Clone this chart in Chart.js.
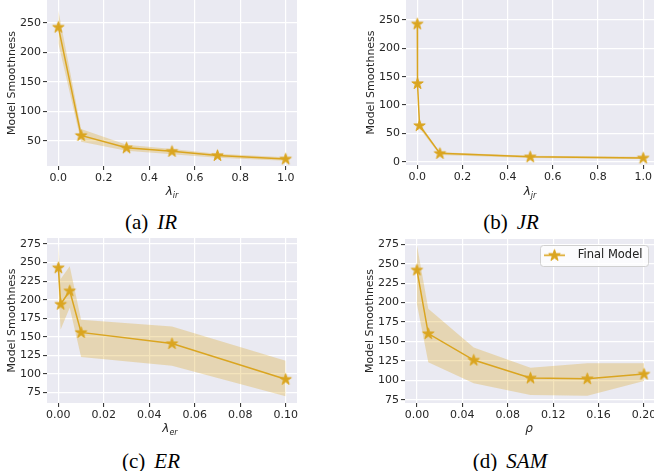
<!DOCTYPE html>
<html>
<head>
<meta charset="utf-8">
<script src="https://cdn.jsdelivr.net/npm/chart.js@4.4.1/dist/chart.umd.min.js"></script>
<style>
  html, body { margin: 0; padding: 0; background: #fff; }
  body { position: relative; width: 654px; height: 471px; overflow: hidden; }
  canvas { position: absolute; }
  .xt { position: absolute; font-family: 'DejaVu Sans'; font-size: 12px; font-style: italic; color: #262626;
        transform: translate(-50%, -50%); white-space: nowrap; line-height: 1; }
  .xt sub { font-size: 8px; vertical-align: -3px; }
  .cap { position: absolute; font-family: 'Liberation Serif'; font-size: 21px; color: #000;
         transform: translate(-50%, -50%); white-space: nowrap; line-height: 1; }
  .cap i { margin-left: 9px; }
</style>
</head>
<body>
<canvas id="chartIR" width="300" height="200" style="left:0px;top:0px"></canvas>
<canvas id="chartJR" width="330" height="200" style="left:327px;top:0px"></canvas>
<canvas id="chartER" width="300" height="205" style="left:0px;top:235px"></canvas>
<canvas id="chartSAM" width="330" height="205" style="left:327px;top:235px"></canvas>

<div class="xt" style="left:172px;top:192px">λ<sub>ir</sub></div>
<div class="xt" style="left:530px;top:192px">λ<sub>jr</sub></div>
<div class="xt" style="left:170px;top:429px">λ<sub>er</sub></div>
<div class="xt" style="left:529px;top:428px">ρ</div>

<div class="cap" style="left:151px;top:222px">(a)<i>IR</i></div>
<div class="cap" style="left:511px;top:222px">(b)<i>JR</i></div>
<div class="cap" style="left:151px;top:461px">(c)<i>ER</i></div>
<div class="cap" style="left:510px;top:461px">(d)<i>SAM</i></div>

<script>
// ---- dados ----
// (a) IR
const irX    = [0, 0.1, 0.3, 0.5, 0.7, 1.0];
const irY    = [243, 59, 38, 32, 25, 19];
const irLow  = [215, 48, 33, 27, 21, 16];
const irHigh = [271, 70, 43, 36, 28, 22];
const irXTicks = [0, 0.2, 0.4, 0.6, 0.8, 1.0];
const irYTicks = [50, 100, 150, 200, 250];

// (b) JR
const jrX    = [0, 0.001, 0.01, 0.1, 0.5, 1.0];
const jrY    = [243, 138, 64, 15, 9, 7];
const jrLow  = [240, 133, 59, 12, 7, 5];
const jrHigh = [246, 143, 68, 17, 11, 9];
const jrXTicks = [0, 0.2, 0.4, 0.6, 0.8, 1.0];
const jrYTicks = [0, 50, 100, 150, 200, 250];

// (c) ER
const erX    = [0, 0.001, 0.005, 0.01, 0.05, 0.1];
const erY    = [243, 194, 212, 156, 141, 93];
const erLow  = [213, 160, 189, 123, 111, 70];
const erHigh = [274, 228, 245, 173, 164, 118];
const erXTicks = [0, 0.02, 0.04, 0.06, 0.08, 0.1];
const erYTicks = [75, 100, 125, 150, 175, 200, 225, 250, 275];

// (d) SAM
const samX    = [0, 0.01, 0.05, 0.1, 0.15, 0.2];
const samY    = [242, 160, 126, 103, 102, 108];
const samLow  = [198, 123, 96, 81, 80, 99];
const samHigh = [274, 192, 142, 116, 122, 122];
const samXTicks = [0, 0.04, 0.08, 0.12, 0.16, 0.2];
const samYTicks = [75, 100, 125, 150, 175, 200, 225, 250, 275];

const seriesLabel = 'Final Model';
const yTitle = 'Model Smoothness';

// ---- estilo ----
const gold = '#DAA520';
const band = 'rgba(218, 165, 32, 0.3)';
const ink = '#262626';
const axisFont = { family: 'DejaVu Sans', size: 11 };

// estrela preenchida (marcador '*' do matplotlib)
function drawStar(g, cx, cy, r) {
    g.beginPath();
    for (let k = 0; k < 10; k++) {
        const ang = -Math.PI / 2 + k * Math.PI / 5;
        const rr = k % 2 === 0 ? r : r * 0.381966;
        const px = cx + rr * Math.cos(ang), py = cy + rr * Math.sin(ang);
        if (k === 0) g.moveTo(px, py); else g.lineTo(px, py);
    }
    g.closePath();
    g.fillStyle = gold;
    g.strokeStyle = gold;
    g.lineWidth = 1;
    g.fill();
    g.stroke();
}

const starImg = document.createElement('canvas');
starImg.width = 15; starImg.height = 15;
drawStar(starImg.getContext('2d'), 7.5, 7.8, 6);

// marcador da legenda: linha + estrela
const legendImg = document.createElement('canvas');
legendImg.width = 28; legendImg.height = 15;
(function () {
    const g = legendImg.getContext('2d');
    g.strokeStyle = gold; g.lineWidth = 1.5;
    g.beginPath(); g.moveTo(0, 7.5); g.lineTo(21, 7.5); g.stroke();
    drawStar(g, 10.5, 7.8, 6);
})();

// fundo cinza-azulado da área do gráfico (seaborn darkgrid)
const plotBg = {
    id: 'plotBg',
    beforeDraw(chart) {
        const a = chart.chartArea, ctx = chart.ctx;
        ctx.save();
        ctx.fillStyle = '#EAEAF2';
        ctx.fillRect(a.left, a.top, a.right - a.left, a.bottom - a.top);
        ctx.restore();
    }
};

// posiciona a legenda dentro da área, no canto superior direito, com caixa
const legendFrame = {
    id: 'legendFrame',
    afterLayout(chart) {
        const lg = chart.legend;
        if (!lg || !lg.options.display) return;
        lg.left = 212; lg.right = 326;
        lg.top = 9.5; lg.bottom = 33;
        lg.width = lg.right - lg.left; lg.height = lg.bottom - lg.top;
    },
    afterDraw(chart) {
        const lg = chart.legend;
        if (!lg || !lg.options.display) return;
        const ctx = chart.ctx;
        ctx.save();
        ctx.beginPath();
        ctx.roundRect(213.5, 10.5, 108, 21, 3);
        ctx.fillStyle = 'rgba(255,255,255,0.8)';
        ctx.fill();
        ctx.strokeStyle = '#d0d0d0';
        ctx.lineWidth = 1;
        ctx.stroke();
        ctx.restore();
        lg.draw();
    }
};

// fixa a área do gráfico no lugar medido (sem a folga automática dos rótulos)
function pinArea(area, padLeft) {
    const [l, t, r, b] = area;
    return {
        id: 'pinArea',
        afterLayout(chart) {
            const ca = chart.chartArea;
            ca.left = l; ca.top = t; ca.right = r; ca.bottom = b;
            ca.width = r - l; ca.height = b - t;
            const x = chart.scales.x, y = chart.scales.y;
            x.left = l; x.right = r; x.width = r - l;
            x.top = b; x.bottom = chart.height; x.height = chart.height - b;
            y.left = padLeft; y.right = l; y.width = l - padLeft;
            y.top = t; y.bottom = b; y.height = b - t;
            x.configure(); y.configure();
        }
    };
}

function toPoints(xs, ys) {
    return xs.map((x, i) => ({ x: x, y: ys[i] }));
}

function makePanel(opt) {
    const canvas = document.getElementById(opt.id);
    const W = canvas.width, H = canvas.height;
    const [aLeft, aTop, aRight, aBottom] = opt.area;
    const padLeft = opt.padLeft;
    const plugins = [plotBg, pinArea(opt.area, padLeft)];
    if (opt.legend) plugins.push(legendFrame);

    return new Chart(canvas.getContext('2d'), {
        type: 'line',
        data: {
            datasets: [
                {
                    label: 'low',
                    data: toPoints(opt.xs, opt.lo),
                    borderWidth: 0, pointRadius: 0, fill: false
                },
                {
                    label: 'high',
                    data: toPoints(opt.xs, opt.hi),
                    borderWidth: 0, pointRadius: 0,
                    backgroundColor: band, fill: '-1'
                },
                {
                    label: seriesLabel,
                    data: toPoints(opt.xs, opt.ys),
                    borderColor: gold, backgroundColor: gold,
                    borderWidth: 1.5, tension: 0, fill: false,
                    pointStyle: starImg, pointRadius: 6
                }
            ]
        },
        options: {
            responsive: false,
            animation: false,
            events: [],
            layout: {
                padding: { left: padLeft, top: aTop, right: W - aRight, bottom: 0 }
            },
            scales: {
                x: {
                    type: 'linear',
                    min: opt.xRange[0], max: opt.xRange[1],
                    border: { display: false },
                    grid: { color: '#ffffff', lineWidth: 1.2, tickColor: ink, tickLength: 4, tickWidth: 1 },
                    ticks: {
                        color: ink, font: axisFont, padding: 2, maxRotation: 0, autoSkip: false,
                        callback: v => v.toFixed(opt.digits)
                    },
                    afterBuildTicks: s => { s.ticks = opt.xTicks.map(v => ({ value: v })); },
                    afterFit: s => { s.height = H - aBottom; }
                },
                y: {
                    type: 'linear',
                    min: opt.yRange[0], max: opt.yRange[1],
                    border: { display: false },
                    grid: { color: '#ffffff', lineWidth: 1.2, tickColor: ink, tickLength: 4, tickWidth: 1 },
                    ticks: { color: ink, font: axisFont, padding: 2, autoSkip: false },
                    afterBuildTicks: s => { s.ticks = opt.yTicks.map(v => ({ value: v })); },
                    afterFit: s => { s.width = aLeft - padLeft; },
                    title: {
                        display: true, text: yTitle, color: ink, font: axisFont,
                        padding: { top: 6, bottom: 0 }
                    }
                }
            },
            plugins: {
                tooltip: { enabled: false },
                legend: {
                    display: !!opt.legend,
                    position: 'chartArea',
                    align: 'start',
                    labels: {
                        usePointStyle: true,
                        pointStyle: legendImg,
                        pointStyleWidth: 28,
                        padding: 5,
                        color: ink,
                        font: { family: 'DejaVu Sans', size: 11.5 },
                        filter: item => item.text === seriesLabel
                    }
                }
            }
        },
        plugins: plugins
    });
}

makePanel({
    id: 'chartIR', xs: irX, ys: irY, lo: irLow, hi: irHigh,
    xTicks: irXTicks, yTicks: irYTicks, xRange: [-0.05, 1.05], yRange: [7, 289], digits: 1,
    area: [47, 0, 297, 166], padLeft: 0
});
makePanel({
    id: 'chartJR', xs: jrX, ys: jrY, lo: jrLow, hi: jrHigh,
    xTicks: jrXTicks, yTicks: jrYTicks, xRange: [-0.05, 1.05], yRange: [-5.5, 285], digits: 1,
    area: [79, 0, 327.5, 165], padLeft: 32
});
makePanel({
    id: 'chartER', xs: erX, ys: erY, lo: erLow, hi: erHigh,
    xTicks: erXTicks, yTicks: erYTicks, xRange: [-0.005, 0.105], yRange: [61, 283], digits: 2,
    area: [47, 3, 297, 168], padLeft: 0
});
makePanel({
    id: 'chartSAM', xs: samX, ys: samY, lo: samLow, hi: samHigh,
    xTicks: samXTicks, yTicks: samYTicks, xRange: [-0.0105, 0.21], yRange: [70.7, 281.8], digits: 2,
    area: [78, 4, 328.4, 168], padLeft: 31, legend: true
});
</script>
</body>
</html>
